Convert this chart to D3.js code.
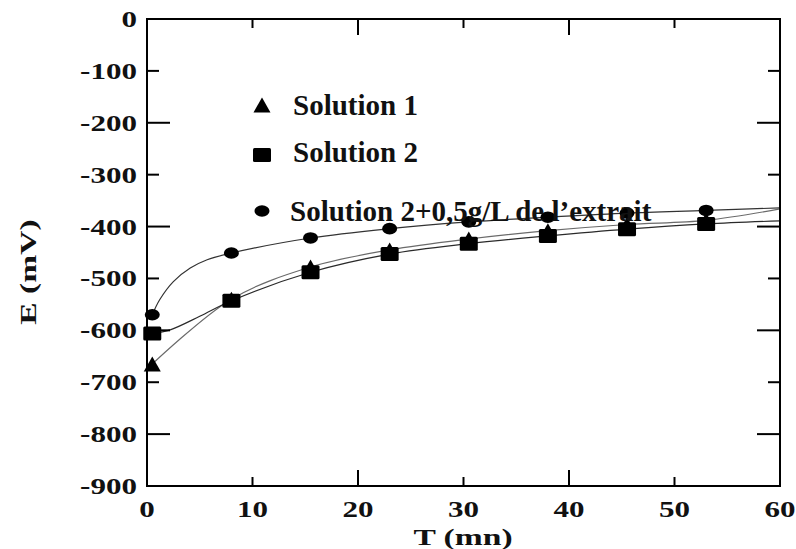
<!DOCTYPE html>
<html>
<head>
<meta charset="utf-8">
<script src="https://cdn.jsdelivr.net/npm/d3@7"></script>
<style>
  html, body { margin: 0; padding: 0; background: #fff; }
  svg { display: block; }
  text { font-family: "Liberation Serif", "Times New Roman", serif; font-weight: bold; fill: #111; }
</style>
</head>
<body>
<svg id="chart" width="796" height="549"></svg>
<script>
// Immersion time (mn) and measured potentials (mV)
const times = [0.5, 8, 15.5, 23, 30.5, 38, 45.5, 53];
const solution1 = [-665, -540, -478, -445, -424, -408, -396, -388];
const solution2 = [-606, -543, -488, -453, -433, -418, -405, -395];
const solution2Extract = [-570, -451, -422, -404, -391, -382, -374, -369];

// Fitted trend curves (time, potential)
const fit1Times = [0.5, 8, 15.5, 23, 30.5, 38, 45.5, 53, 60];
const fit1Values = [-665, -540, -478, -445, -424, -408, -396, -388, -366];
const fit2Times = [0.5, 2.2, 5, 8, 15.5, 23, 30.5, 38, 45.5, 53, 60];
const fit2Values = [-606, -599, -573, -543, -488, -453, -433, -418, -405, -395, -389];
const fit3Times = [0.5, 1.2, 2.5, 4.1, 5.7, 8, 15.5, 23, 30.5, 38, 45.5, 53, 60];
const fit3Values = [-570, -541, -506, -480, -464, -451, -422, -404, -391, -382, -374, -369, -364];

const seriesNames = ["Solution 1", "Solution 2", "Solution 2+0,5g/L de l\u2019extrait"];
const seriesMarkers = ["triangle", "square", "circle"];
const seriesValues = [solution1, solution2, solution2Extract];
const fitTimes = [fit1Times, fit2Times, fit3Times];
const fitValues = [fit1Values, fit2Values, fit3Values];

const xTicks = [0, 10, 20, 30, 40, 50, 60];
const yTicks = [0, -100, -200, -300, -400, -500, -600, -700, -800, -900];

const svg = d3.select("#chart");
const plotLeft = 147, plotRight = 780, plotTop = 19, plotBottom = 486;
const x = d3.scaleLinear().domain([0, 60]).range([plotLeft, plotRight]);
const y = d3.scaleLinear().domain([-900, 0]).range([plotBottom, plotTop]);

const SX = 1.35; // horizontal stretch of the tick lettering

function stretchedText(g, tx, ty, str, size, anchor, sx) {
  return g.append("text")
    .attr("transform", `translate(${tx},${ty}) scale(${sx || SX},1)`)
    .attr("text-anchor", anchor)
    .style("font-size", size + "px")
    .text(str);
}

// Fitted trend lines
const line = d3.line().x(d => x(d[0])).y(d => y(d[1])).curve(d3.curveCatmullRom.alpha(0.5));
const lineColors = ["#6a6a6a", "#2a2a2a", "#333333"];
fitTimes.forEach((ts, i) => {
  const pts = ts.map((t, j) => [t, fitValues[i][j]]);
  svg.append("path")
    .attr("d", line(pts))
    .attr("fill", "none")
    .attr("stroke", lineColors[i])
    .attr("stroke-width", 1.2);
});

// Marker shapes
function drawMarker(g, type, cx, cy) {
  if (type === "triangle") {
    const w = 17, h = 15;
    g.append("path")
      .attr("d", `M${cx},${cy - h / 2}L${cx + w / 2},${cy + h / 2}L${cx - w / 2},${cy + h / 2}Z`)
      .attr("fill", "#000");
  } else if (type === "square") {
    g.append("rect")
      .attr("x", cx - 9).attr("y", cy - 7)
      .attr("width", 18).attr("height", 14)
      .attr("rx", 1.5)
      .attr("fill", "#000");
  } else {
    g.append("ellipse")
      .attr("cx", cx).attr("cy", cy)
      .attr("rx", 7.5).attr("ry", 5.8)
      .attr("fill", "#000");
  }
}

const markersG = svg.append("g");
seriesValues.forEach((vals, i) => {
  times.forEach((t, j) => drawMarker(markersG, seriesMarkers[i], x(t), y(vals[j])));
});

// Frame
svg.append("rect")
  .attr("x", plotLeft).attr("y", plotTop)
  .attr("width", plotRight - plotLeft).attr("height", plotBottom - plotTop)
  .attr("fill", "none").attr("stroke", "#000").attr("stroke-width", 2);

// Inward ticks on all four sides, longer on the even steps
const tickG = svg.append("g").attr("stroke", "#000").attr("stroke-width", 2);
xTicks.slice(1, -1).forEach(t => {
  const len = (t % 20 === 0) ? 16 : 9;
  tickG.append("line").attr("x1", x(t)).attr("x2", x(t)).attr("y1", plotBottom).attr("y2", plotBottom - len);
  tickG.append("line").attr("x1", x(t)).attr("x2", x(t)).attr("y1", plotTop).attr("y2", plotTop + len);
});
yTicks.slice(1, -1).forEach(v => {
  const len = (v % 200 === 0) ? 23 : 12;
  tickG.append("line").attr("y1", y(v)).attr("y2", y(v)).attr("x1", plotLeft).attr("x2", plotLeft + len);
  tickG.append("line").attr("y1", y(v)).attr("y2", y(v)).attr("x1", plotRight).attr("x2", plotRight - len);
});

// Tick labels
const labelG = svg.append("g");
yTicks.forEach(v => stretchedText(labelG, 137, y(v) + 8, String(v), 23, "end"));
xTicks.forEach(t => stretchedText(labelG, x(t), 517, String(t), 23, "middle"));

// Axis titles
stretchedText(svg, 463, 545, "T (mn)", 24, "middle", 1.4);
svg.append("text")
  .attr("transform", `translate(36,272) rotate(-90) scale(1.4,1)`)
  .attr("text-anchor", "middle")
  .style("font-size", "24px")
  .text("E (mV)");

// Legend
const legendG = svg.append("g");
const legendRows = [105, 155, 211];
const legendBase = [115, 162, 221];
seriesNames.forEach((name, i) => {
  drawMarker(legendG, seriesMarkers[i], 262, legendRows[i]);
  stretchedText(legendG, i === 2 ? 290 : 293, legendBase[i], name, 29, "start", 1.0);
});
</script>
</body>
</html>
